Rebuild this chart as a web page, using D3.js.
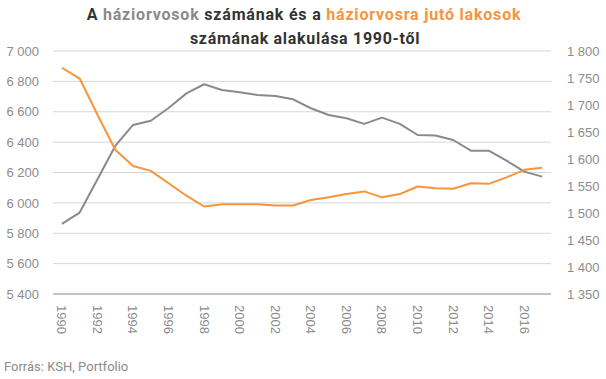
<!DOCTYPE html>
<html>
<head>
<meta charset="utf-8">
<script src="https://cdnjs.cloudflare.com/ajax/libs/d3/7.8.5/d3.min.js"></script>
<style>
  body { margin: 0; background: #fff; }
  svg { font-family: Roboto, "Noto Sans", sans-serif; }
  .tick text { fill: #8c8c8c; font-size: 13px; }
</style>
</head>
<body>
<svg width="606" height="379"></svg>
<script>
const years = d3.range(1990, 2018);
const doctors = [5862, 5936, 6155, 6375, 6513, 6541, 6625, 6721, 6781, 6743,
  6728, 6710, 6704, 6682, 6623, 6579, 6557, 6520, 6561, 6520,
  6447, 6443, 6414, 6344, 6344, 6278, 6206, 6173];
const residents = [1769, 1749, 1682, 1617, 1587, 1578, 1555, 1532, 1512, 1516,
  1516, 1516, 1514, 1514, 1524, 1529, 1535, 1540, 1529, 1535,
  1549, 1546, 1545, 1555, 1554, 1566, 1580, 1584];
const leftTicks = d3.range(5400, 7001, 200);
const rightTicks = d3.range(1350, 1801, 50);
const xTicks = d3.range(1990, 2017, 2);

const svg = d3.select("svg");
const plotLeft = 53, plotRight = 551;
const plotTop = 51, plotBottom = 294;

const grey = "#8a8a8a";
const orange = "#f7943c";
const dark = "#333";

const xScale = d3.scaleBand().domain(years).range([plotLeft, plotRight]);
const xPos = d => xScale(d) + xScale.bandwidth() / 2;
const yLeft = d3.scaleLinear().domain([5400, 7000]).range([plotBottom, plotTop]);
const yRight = d3.scaleLinear().domain([1350, 1800]).range([plotBottom, plotTop]);

// gridlines
svg.append("g")
  .selectAll("line")
  .data(leftTicks)
  .join("line")
  .attr("x1", plotLeft).attr("x2", plotRight)
  .attr("y1", d => yLeft(d)).attr("y2", d => yLeft(d))
  .attr("stroke", d => d === 5400 ? "#888" : "#d6d6d6")
  .attr("stroke-width", 1);

const fmt = d => d3.format(",")(d).replace(",", " ");

const leftAxis = svg.append("g")
  .attr("transform", `translate(${plotLeft},0)`)
  .call(d3.axisLeft(yLeft).tickValues(leftTicks).tickFormat(fmt).tickSize(0).tickPadding(14));
leftAxis.select(".domain").remove();

const rightAxis = svg.append("g")
  .attr("transform", `translate(${plotRight},0)`)
  .call(d3.axisRight(yRight).tickValues(rightTicks).tickFormat(fmt).tickSize(0).tickPadding(16));
rightAxis.select(".domain").remove();

const xAxis = svg.append("g")
  .attr("transform", `translate(0,${plotBottom})`)
  .call(d3.axisBottom(xScale).tickValues(xTicks).tickSize(0));
xAxis.select(".domain").remove();
xAxis.selectAll("text")
  .attr("transform", "rotate(90)")
  .attr("x", 11).attr("y", 0).attr("dy", "0.35em")
  .attr("text-anchor", "start");

const lineL = d3.line().x((d, i) => xPos(years[i])).y(d => yLeft(d));
const lineR = d3.line().x((d, i) => xPos(years[i])).y(d => yRight(d));

svg.append("path").datum(doctors)
  .attr("d", lineL).attr("fill", "none")
  .attr("stroke", grey).attr("stroke-width", 2).attr("stroke-linejoin", "round");

svg.append("path").datum(residents)
  .attr("d", lineR).attr("fill", "none")
  .attr("stroke", orange).attr("stroke-width", 2).attr("stroke-linejoin", "round");

// title
const t1 = svg.append("text")
  .attr("x", 304).attr("y", 20)
  .attr("text-anchor", "middle")
  .attr("font-size", 16).attr("font-weight", "bold").attr("fill", dark)
  .attr("letter-spacing", 0.8);
t1.append("tspan").text("A ");
t1.append("tspan").attr("fill", grey).text("háziorvosok");
t1.append("tspan").text(" számának és a ");
t1.append("tspan").attr("fill", orange).text("háziorvosra jutó lakosok");

svg.append("text")
  .attr("x", 305).attr("y", 44)
  .attr("text-anchor", "middle")
  .attr("font-size", 16).attr("font-weight", "bold").attr("fill", dark)
  .attr("letter-spacing", 0.7)
  .text("számának alakulása 1990-től");

svg.append("text")
  .attr("x", 4).attr("y", 371)
  .attr("font-size", 13).attr("fill", "#8c8c8c")
  .text("Forrás: KSH, Portfolio");
</script>
</body>
</html>
